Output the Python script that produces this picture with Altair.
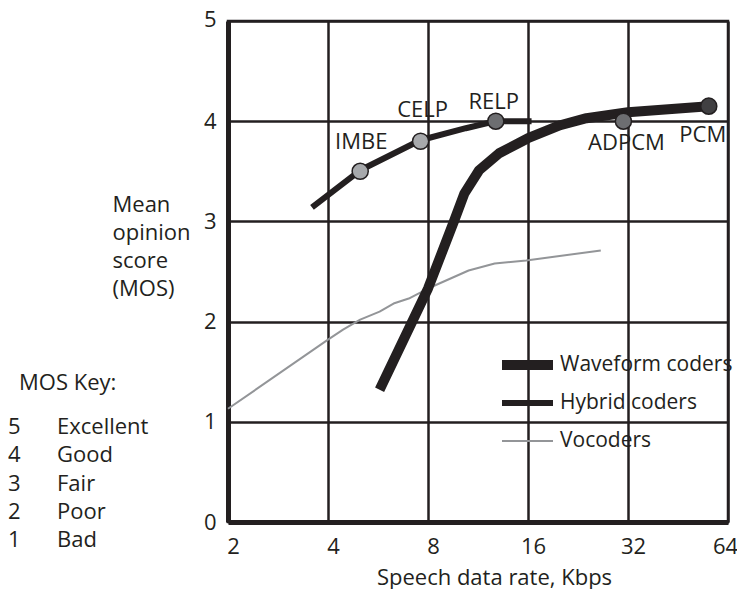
import altair as alt
import pandas as pd

# ---------------- data ----------------
wave_rate = [5.72, 8.0, 9.6, 10.3, 11.4, 13.1, 16.0, 20.0, 24.0, 32.0, 56.0]
wave_mos = [1.32, 2.33, 3.01, 3.28, 3.51, 3.68, 3.83, 3.96, 4.03, 4.09, 4.15]

hyb_rate = [3.58, 5.0, 7.58, 10.4, 12.8, 16.4]
hyb_mos = [3.14, 3.51, 3.81, 3.93, 4.0, 4.0]

voc_rate = [2.0, 4.0, 4.44, 5.0, 5.72, 6.3, 7.0, 8.0, 10.6, 12.7, 15.8, 26.5]
voc_mos = [1.13, 1.82, 1.92, 2.02, 2.10, 2.18, 2.23, 2.33, 2.51, 2.58, 2.61, 2.71]

coder_names = ["Waveform coders", "Hybrid coders", "Vocoders"]

codec_names = ["IMBE", "CELP", "RELP", "ADPCM", "PCM"]
codec_rate = [5.0, 7.6, 12.8, 31.0, 56.0]
codec_mos = [3.5, 3.8, 4.0, 4.0, 4.15]

x_ticks = [2, 4, 8, 16, 32, 64]
y_ticks = [0, 1, 2, 3, 4, 5]

key_scores = [5, 4, 3, 2, 1]
key_words = ["Excellent", "Good", "Fair", "Poor", "Bad"]

x_title = "Speech data rate, Kbps"
y_title = ["Mean", "opinion", "score", "(MOS)"]
key_title = "MOS Key:"

# ---------------- styles ----------------
FONT = "Open Sans"
FS = 22
INK = "#231f20"
GRAY = "#939598"
LIGHT = "#a7a9ac"
MID = "#6d6e71"
DARK = "#414042"

lines_df = pd.concat([
    pd.DataFrame({"series": coder_names[0], "rate": wave_rate, "mos": wave_mos}),
    pd.DataFrame({"series": coder_names[1], "rate": hyb_rate, "mos": hyb_mos}),
    pd.DataFrame({"series": coder_names[2], "rate": voc_rate, "mos": voc_mos}),
], ignore_index=True)

codec_df = pd.DataFrame({"name": codec_names, "rate": codec_rate, "mos": codec_mos})

X = alt.X("rate:Q",
          scale=alt.Scale(type="log", base=2, domain=[2, 64], nice=False),
          axis=alt.Axis(values=x_ticks, format="d", title=x_title,
                        titleX=266, titleY=62, titleAlign="center",
                        titleBaseline="alphabetic",
                        labelBaseline="alphabetic", labelPadding=31,
                        labelOffset=alt.condition("datum.value == 64",
                                                  alt.value(-3), alt.value(5)),
                        labelAlign="center"))
Y = alt.Y("mos:Q",
          scale=alt.Scale(domain=[0, 5], nice=False),
          axis=alt.Axis(values=y_ticks, title=y_title, titleAngle=0,
                        titleAlign="left", titleBaseline="alphabetic",
                        titleX=-116, titleY=190, titleLineHeight=28.3,
                        labelAlign="right", labelBaseline="middle",
                        labelOffset=alt.condition("datum.value == 5",
                                                  alt.value(-2), alt.value(0)),
                        labelPadding=12))

color_scale = alt.Scale(domain=coder_names, range=[INK, INK, GRAY])
# point scale with no padding: 10, 6, 2 px
width_scale = alt.Scale(domain=coder_names, range=[10, 2], padding=0)

legend = alt.Legend(title=None, orient="none", legendX=269, legendY=329,
                    symbolType="stroke", symbolSize=2601,
                    labelFont=FONT, labelFontSize=21, labelColor=INK,
                    labelOffset=2, labelLimit=400, rowPadding=8,
                    clipHeight=30, padding=0)


def line_layer(name):
    return alt.Chart(lines_df).transform_filter(
        alt.datum.series == name
    ).mark_line(strokeCap="butt", strokeJoin="round").encode(
        x=X, y=Y,
        color=alt.Color("series:N", scale=color_scale, legend=legend),
        strokeWidth=alt.StrokeWidth("series:N", scale=width_scale, legend=legend),
        order="rate:Q",
    )


points = alt.Chart(codec_df).mark_circle(size=260, stroke=INK, strokeWidth=1.5,
                                         opacity=1).encode(
    x=X, y=Y,
    fill=alt.Fill("name:N",
                  scale=alt.Scale(domain=codec_names,
                                  range=[LIGHT, LIGHT, MID, MID, DARK]),
                  legend=None),
)

label_offsets = {"IMBE": (1, -22), "CELP": (2, -24), "RELP": (-2, -12),
                 "ADPCM": (3, 29), "PCM": (-6, 36)}
label_layers = []
for nm in codec_names:
    dx, dy = label_offsets[nm]
    label_layers.append(
        alt.Chart(codec_df).transform_filter(alt.datum.name == nm).mark_text(
            font=FONT, fontSize=FS, color=INK, align="center",
            baseline="alphabetic", dx=dx, dy=dy
        ).encode(x=X, y=Y, text="name:N")
    )

key_head = alt.Chart(pd.DataFrame({"t": [key_title]})).mark_text(
    font=FONT, fontSize=FS, color=INK, align="left", baseline="alphabetic"
).encode(x=alt.value(-209), y=alt.value(369), text="t:N")

key_num = alt.Chart(pd.DataFrame({"t": ["\n".join(str(s) for s in key_scores)]})).mark_text(
    font=FONT, fontSize=FS, color=INK, align="left", baseline="alphabetic",
    lineBreak="\n", lineHeight=28.3
).encode(x=alt.value(-220), y=alt.value(413), text="t:N")

key_word = alt.Chart(pd.DataFrame({"t": ["\n".join(key_words)]})).mark_text(
    font=FONT, fontSize=FS, color=INK, align="left", baseline="alphabetic",
    lineBreak="\n", lineHeight=28.3
).encode(x=alt.value(-171), y=alt.value(413), text="t:N")

chart = alt.layer(
    line_layer("Vocoders"), line_layer("Waveform coders"), line_layer("Hybrid coders"),
    points, *label_layers, key_head, key_num, key_word
).properties(
    width=500, height=501,
    autosize=alt.AutoSizeParams(type="none"),
    padding={"left": 220, "top": 13, "right": 9, "bottom": 67},
    background="white",
).configure(
    font=FONT,
).configure_view(
    stroke=INK, strokeWidth=2.5,
).configure_axis(
    grid=True, gridColor=INK, gridWidth=2.5, gridOpacity=1,
    domain=True, domainColor=INK, domainWidth=5,
    ticks=False, tickSize=0,
    labelFont=FONT, labelFontSize=FS, labelColor=INK,
    titleFont=FONT, titleFontSize=FS, titleColor=INK, titleFontWeight="normal",
)

chart.save("out.html", embed_options={"renderer": "svg", "actions": False})
